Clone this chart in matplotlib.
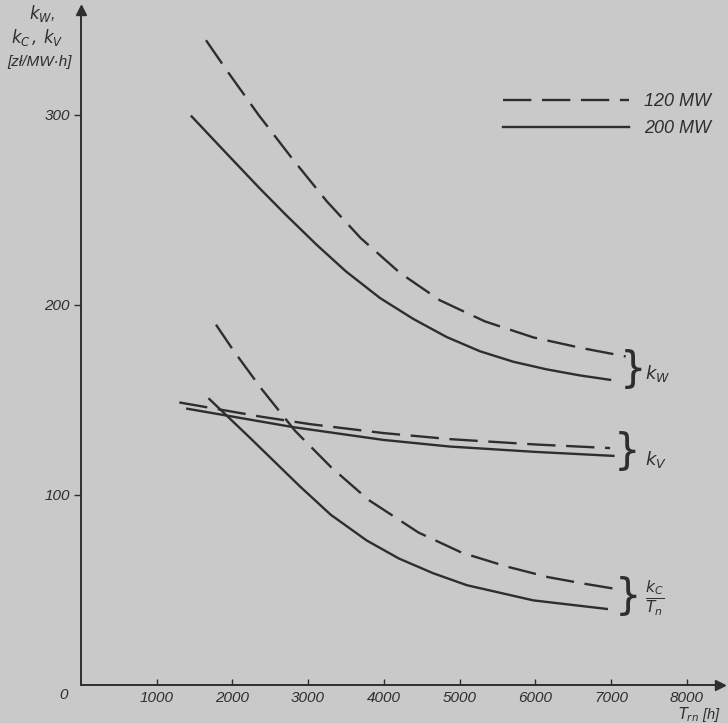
import matplotlib
matplotlib.use("Agg")
import matplotlib.pyplot as plt

# values (T_rn in h, costs in zl/MWh)
kw_120_x = [1651, 1933, 2342, 2783, 3246, 3695, 4214, 4742, 5337, 5975, 6614, 7195]
kw_120_y = [339.1, 322.8, 300.0, 277.2, 254.4, 235.0, 216.7, 202.3, 191.2, 182.8, 177.2, 172.8]
kw_200_x = [1462, 1900, 2365, 2700, 3113, 3500, 3950, 4390, 4830, 5271, 5711, 6151, 6592, 6988]
kw_200_y = [299.0, 280.5, 261.0, 247.5, 231.5, 217.5, 203.5, 192.5, 183.0, 175.5, 170.0, 166.0, 162.8, 160.5]

kv_120_x = [1299, 2365, 3025, 3993, 4874, 6000, 6988]
kv_120_y = [148.6, 141.2, 137.2, 132.5, 129.3, 126.5, 124.6]
kv_200_x = [1404, 2805, 3993, 4874, 6000, 7032]
kv_200_y = [145.3, 135.6, 128.9, 125.4, 122.6, 120.5]

kc_120_x = [1783, 2012, 2387, 2827, 3302, 3796, 4457, 5029, 5623, 6173, 6658, 7081]
kc_120_y = [189.5, 176.0, 155.6, 133.7, 114.6, 97.4, 80.2, 69.6, 62.3, 56.7, 53.2, 50.4]
kc_200_x = [1695, 2232, 2893, 3300, 3774, 4200, 4650, 5095, 5975, 6945]
kc_200_y = [150.4, 130.0, 104.4, 89.5, 76.0, 66.5, 58.8, 52.5, 44.5, 40.0]

x_ticks = [1000, 2000, 3000, 4000, 5000, 6000, 7000, 8000]
y_ticks = [100, 200, 300]
series_labels = ["120 MW", "200 MW"]

paper = "#c9c9c9"
ink = "#2e2e2e"
hand = ["Liberation Sans", "DejaVu Sans"]
plt.rcParams["font.family"] = hand
plt.rcParams["font.style"] = "italic"
plt.rcParams["mathtext.fontset"] = "dejavusans"

W, H = 728, 723
fig = plt.figure(figsize=(W / 100, H / 100), dpi=100, facecolor=paper)
# axes placed so that 0 -> x=81px, y=685px
ax = fig.add_axes([81 / W, (H - 685) / H, 639 / W, 675 / H])
ax.set_facecolor(paper)
ax.set_xlim(0, 8440)
ax.set_ylim(0, 355)

dash = (0, (12, 4.5))
lw = 1.7
l120, = ax.plot(kw_120_x, kw_120_y, color=ink, lw=lw, linestyle=dash)
l200, = ax.plot(kw_200_x, kw_200_y, color=ink, lw=lw)
ax.plot(kv_120_x, kv_120_y, color=ink, lw=lw, linestyle=dash)
ax.plot(kv_200_x, kv_200_y, color=ink, lw=lw)
ax.plot(kc_120_x, kc_120_y, color=ink, lw=lw, linestyle=dash)
ax.plot(kc_200_x, kc_200_y, color=ink, lw=lw)

for s in ["top", "right"]:
    ax.spines[s].set_visible(False)
for s in ["left", "bottom"]:
    ax.spines[s].set_color(ink)
    ax.spines[s].set_linewidth(1.4)
ax.plot(0, 1, marker="^", color=ink, ms=7, transform=ax.transAxes, clip_on=False)
ax.plot(1, 0, marker=">", color=ink, ms=7, transform=ax.transAxes, clip_on=False)

ax.set_xticks(x_ticks)
ax.set_xticklabels([str(t) for t in x_ticks], fontsize=11)
ax.tick_params(axis="x", direction="in", length=4, width=1, color=ink, pad=4, labelcolor=ink)
ax.set_yticks(y_ticks)
ax.set_yticklabels([str(t) for t in y_ticks], fontsize=11)
ax.tick_params(axis="y", direction="out", length=5, width=1, color=ink, pad=3, labelcolor=ink)
ax.text(-0.02, -0.005, "0", transform=ax.transAxes, ha="right", va="top",
        fontsize=11, color=ink)

ax.legend([l120, l200], series_labels, loc="upper left",
          bbox_to_anchor=(494 / W, 1 - 84 / H), bbox_transform=fig.transFigure,
          frameon=False, fontsize=13, handlelength=7.0, handletextpad=0.8,
          labelspacing=0.55, borderpad=0, labelcolor=ink)


def ftext(px, py, s, **kw):
    fig.text(px / W, 1 - py / H, s, color=ink, **kw)


ftext(42, 14, r"$k_W$,", fontsize=12, ha="center", va="center")
ftext(37, 38, r"$k_C\,,\,k_V$", fontsize=12, ha="center", va="center")
ftext(40, 62, "[zł/MW·h]", fontsize=11, ha="center", va="center")
ftext(678, 715, r"$T_{rn}$ [h]", fontsize=10.5, ha="left", va="center")

brace = dict(fontsize=30, ha="center", va="center", family="DejaVu Sans", style="normal")
ftext(633, 370, "}", **brace)
ftext(627, 452, "}", **brace)
ftext(628, 597, "}", **brace)
ftext(645, 373, r"$k_W$", fontsize=13, ha="left", va="center")
ftext(645, 460, r"$k_V$", fontsize=13, ha="left", va="center")
ftext(645, 598, r"$\frac{k_C}{T_n}$", fontsize=16, ha="left", va="center")

fig.savefig("out.png", dpi=100, facecolor=paper)
